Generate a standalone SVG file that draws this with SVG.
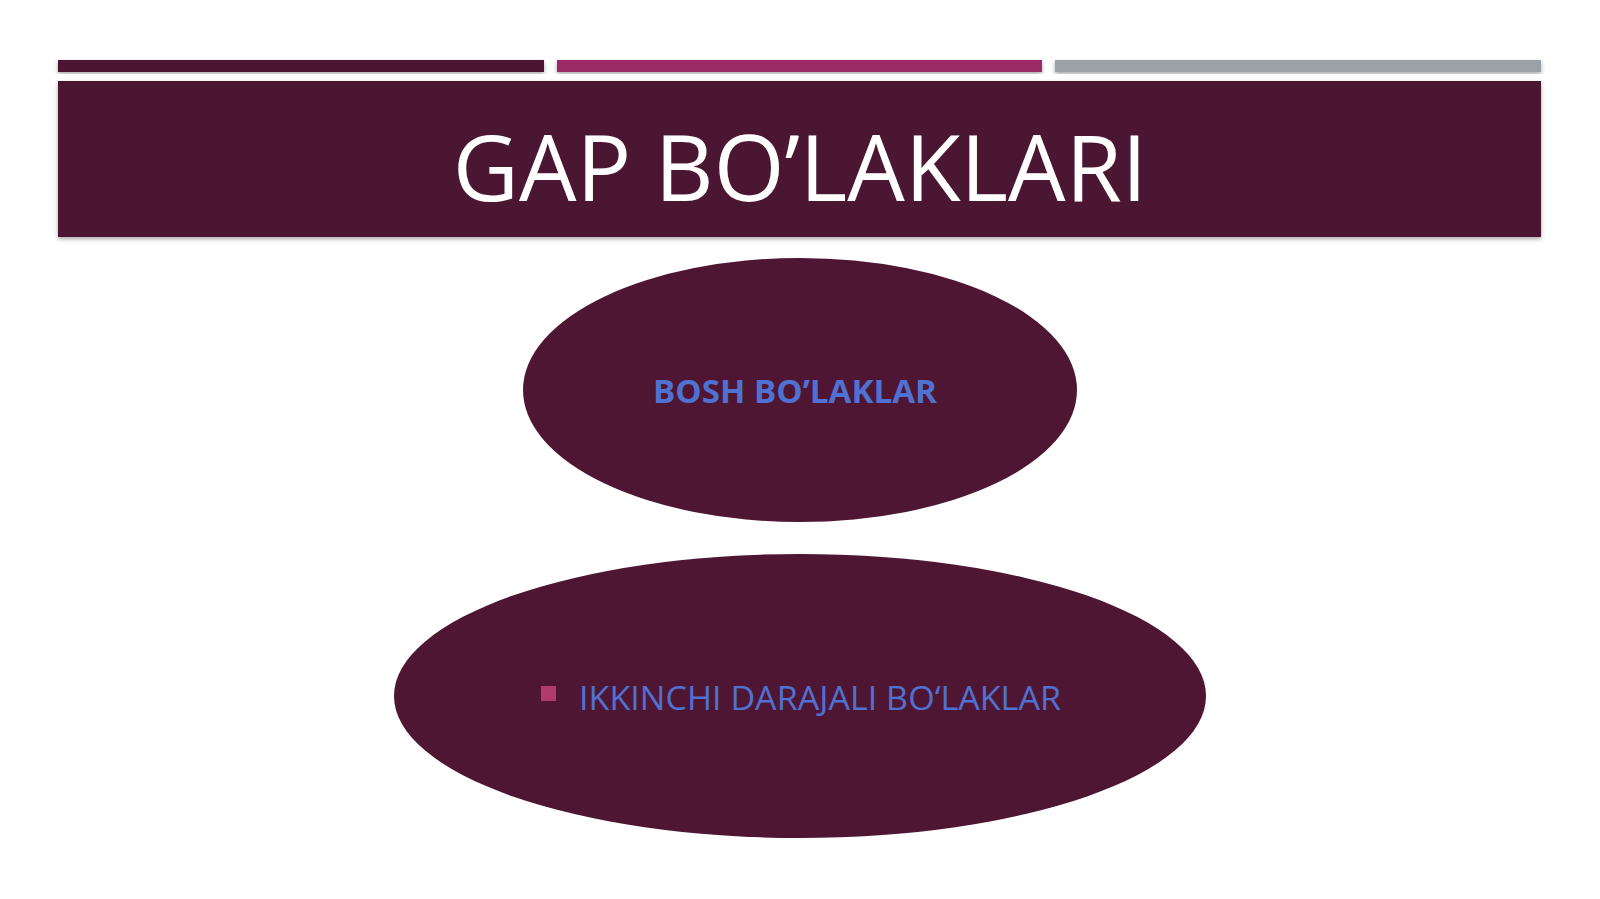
<svg xmlns="http://www.w3.org/2000/svg" width="1600" height="899" viewBox="0 0 1600 899">
<defs>
<style>
.bar{stroke:none}
.node{fill:#4f1633}
.lbl{font-family:"Open Sans","Noto Sans",sans-serif;fill:#4f72d2;font-size:33px}
</style>
<filter id="sh" x="-5%" y="-10%" width="110%" height="125%"><feDropShadow dx="0" dy="2" stdDeviation="2" flood-color="#000" flood-opacity="0.35"/></filter>
</defs>
<rect width="1600" height="899" fill="#ffffff"/>
<g id="header">
<rect class="bar" x="58" y="60" width="486" height="12" fill="#4b1531" filter="url(#sh)"/>
<rect class="bar" x="557" y="60" width="485" height="12" fill="#9a2c66" filter="url(#sh)"/>
<rect class="bar" x="1055" y="60" width="486" height="12" fill="#9aa1a7" filter="url(#sh)"/>
<rect x="58" y="81" width="1483" height="156" fill="#4b1530" filter="url(#sh)"/>
<text x="800" y="201" text-anchor="middle" font-family="'Open Sans','Noto Sans',sans-serif" font-size="91" fill="#ffffff">GAP BO’LAKLARI</text>
</g>
<g id="connectors"></g>
<g id="node-bosh">
<ellipse class="node" cx="800" cy="390" rx="277" ry="132"/>
<text class="lbl" x="795" y="403" text-anchor="middle" font-weight="bold" textLength="284" lengthAdjust="spacingAndGlyphs">BOSH BO’LAKLAR</text>
</g>
<g id="node-ikkinchi">
<ellipse class="node" cx="800" cy="696" rx="406" ry="142"/>
<rect x="541" y="686" width="15" height="15" fill="#b13b6c"/>
<text class="lbl" x="579" y="710" textLength="482" lengthAdjust="spacingAndGlyphs">IKKINCHI DARAJALI BO‘LAKLAR</text>
</g>
</svg>
